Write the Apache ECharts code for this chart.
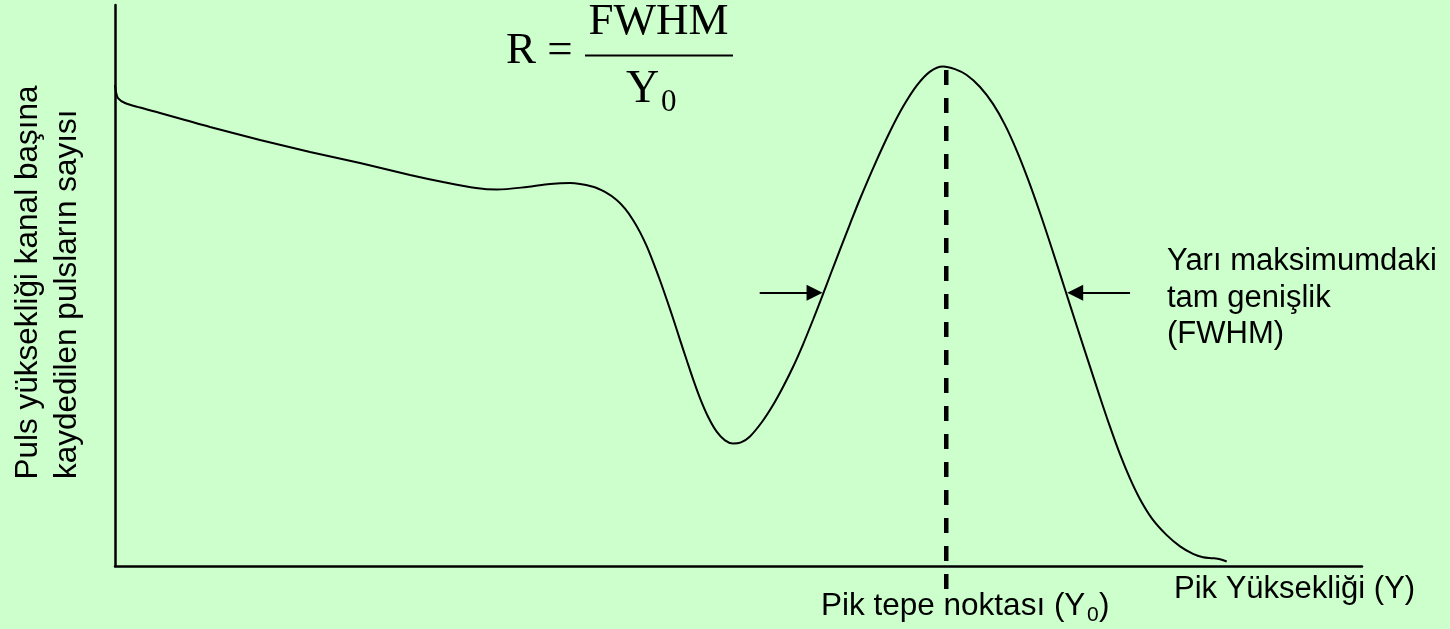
<!DOCTYPE html>
<html>
<head>
<meta charset="utf-8">
<script src="https://cdn.jsdelivr.net/npm/echarts@6/dist/echarts.min.js"></script>
<style>
  html, body { margin: 0; padding: 0; background: #ccffcc; }
  #spektrum { width: 1450px; height: 629px; }
</style>
</head>
<body>
<div id="spektrum"></div>
<script>
// puls yüksekliği spektrumu (keyfi birimler)
var pulsX = [
  0, 0.08, 0.24, 0.8, 2.0, 3.61, 5.61, 7.62, 11.63, 15.64, 19.65, 23.66, 26.3, 28.95, 30.63,
  33.04, 34.88, 36.49, 38.33, 39.29, 40.23, 40.9, 41.54, 42.1, 42.64, 43.14, 43.71, 44.27, 44.75, 45.31,
  45.85, 46.35, 46.91, 47.55, 48.25, 48.92, 49.56, 50.2, 50.92, 51.88, 52.77, 53.57, 54.37, 55.17, 55.97,
  56.7, 57.42, 58.14, 58.94, 59.74, 60.95, 62.15, 63.19, 64.29, 65.36, 66.4, 67.36, 68.3, 69.37, 70.41,
  71.37, 72.31, 73.22, 74.18, 75.14, 76.18, 77.14, 78.03, 78.99, 79.79, 80.59, 81.4, 82.2, 83.16, 84.34,
  85.41, 86.45, 87.25, 88.05, 88.61, 89.15
];
var pulsSayisi = [
  85.74, 84.49, 83.42, 82.53, 81.73, 80.75, 79.5, 78.25, 75.94, 73.8, 71.84, 69.7, 68.45, 67.38, 67.11,
  67.56, 68.09, 68.27, 67.61, 66.67, 65.24, 63.69, 61.69, 59.52, 57.01, 54.26, 50.89, 47.33, 44.17, 40.3,
  36.67, 33.35, 29.93, 26.65, 23.94, 22.39, 21.82, 22.03, 23.1, 25.67, 28.7, 31.91, 35.47, 39.48, 43.85,
  48.02, 52.23, 56.4, 60.96, 65.42, 71.69, 77.45, 81.85, 85.63, 88.13, 89.05, 88.57, 87.52, 85.38, 82.37,
  78.63, 74.05, 68.91, 62.92, 56.51, 49.32, 42.69, 36.61, 30.09, 24.83, 19.93, 15.56, 11.9, 8.45, 5.5,
  3.5, 2.16, 1.57, 1.39, 1.21, 0.8
];

// pik tepe noktası (Y0) ve yarı maksimum okları
var pikTepe = 66.66;
var pikCizgiY = [88.4, -4.1];
var yariMaksY = 48.7;
var solOk = [51.7, 56.1];
var sagOk = [81.4, 77.0];

var sans = "'Liberation Sans', Arial, sans-serif";
var serif = "'Liberation Serif', 'Times New Roman', serif";

var myChart = echarts.init(document.getElementById("spektrum"));

var egri = pulsX.map(function (x, i) {
  return [x, pulsSayisi[i]];
});

var option = {
  backgroundColor: "#ccffcc",
  animation: false,
  grid: { left: 115, right: 88, top: 5, bottom: 63 },
  xAxis: {
    type: "value",
    min: 0,
    max: 100,
    axisLine: { show: true, onZero: false, lineStyle: { color: "#000", width: 2.5 } },
    axisTick: { show: false },
    axisLabel: { show: false },
    splitLine: { show: false },
  },
  yAxis: {
    type: "value",
    min: 0,
    max: 100,
    axisLine: { show: true, onZero: false, lineStyle: { color: "#000", width: 2.5 } },
    axisTick: { show: false },
    axisLabel: { show: false },
    splitLine: { show: false },
  },
  series: [
    {
      type: "line",
      data: egri,
      smooth: 0.3,
      symbol: "none",
      lineStyle: { color: "#000", width: 2 },
      silent: true,
      markLine: {
        silent: true,
        symbol: ["none", "triangle"],
        symbolSize: 16,
        label: { show: false },
        lineStyle: { color: "#000", width: 2, type: "solid" },
        data: [
          [{ coord: [solOk[0], yariMaksY] }, { coord: [solOk[1], yariMaksY] }],
          [{ coord: [sagOk[0], yariMaksY] }, { coord: [sagOk[1], yariMaksY] }],
        ],
      },
    },
    {
      // kesikli dikey çizgi, x ekseninin altına taşıyor
      type: "line",
      data: [[pikTepe, pikCizgiY[0]], [pikTepe, pikCizgiY[1]]],
      symbol: "none",
      clip: false,
      silent: true,
      lineStyle: { color: "#000", width: 4.5, type: [15, 13], cap: "butt" },
    },
  ],
  graphic: [
    // R = FWHM / Y0
    {
      type: "text", x: 506, y: 51.5,
      style: { text: "R =", font: "45px " + serif, fill: "#000", align: "left", verticalAlign: "middle" },
    },
    {
      type: "text", x: 658.5, y: 22.5,
      style: { text: "FWHM", font: "45px " + serif, fill: "#000", align: "center", verticalAlign: "middle" },
    },
    {
      type: "line",
      shape: { x1: 585, y1: 55.5, x2: 733, y2: 55.5 },
      style: { stroke: "#000", lineWidth: 2 },
    },
    {
      type: "text", x: 626, y: 90,
      style: { text: "Y", font: "46px " + serif, fill: "#000", align: "left", verticalAlign: "middle" },
    },
    {
      type: "text", x: 661, y: 103,
      style: { text: "0", font: "31px " + serif, fill: "#000", align: "left", verticalAlign: "middle" },
    },
    // sağdaki açıklama
    {
      type: "text", x: 1167, y: 243,
      style: {
        text: "Yarı maksimumdaki\ntam genişlik\n(FWHM)",
        font: "31px " + sans, lineHeight: 36.7, fill: "#000", align: "left", verticalAlign: "top",
      },
    },
    // eksen adları
    {
      type: "text", x: 821, y: 606,
      style: { text: "Pik tepe noktası (Y", font: "31.5px " + sans, fill: "#000", align: "left", verticalAlign: "middle" },
    },
    {
      type: "text", x: 1087, y: 615.5,
      style: { text: "0", font: "21px " + sans, fill: "#000", align: "left", verticalAlign: "middle" },
    },
    {
      type: "text", x: 1099, y: 606,
      style: { text: ")", font: "31.5px " + sans, fill: "#000", align: "left", verticalAlign: "middle" },
    },
    {
      type: "text", x: 1174, y: 589.5,
      style: { text: "Pik Yüksekliği (Y)", font: "31px " + sans, fill: "#000", align: "left", verticalAlign: "middle" },
    },
    {
      type: "text", x: 28.5, y: 479.5, rotation: Math.PI / 2,
      style: { text: "Puls yüksekliği kanal başına", font: "31.5px " + sans, fill: "#000", align: "left", verticalAlign: "middle" },
    },
    {
      type: "text", x: 67.5, y: 479, rotation: Math.PI / 2,
      style: { text: "kaydedilen pulsların sayısı", font: "31.5px " + sans, fill: "#000", align: "left", verticalAlign: "middle" },
    },
  ],
};

myChart.setOption(option);
window.addEventListener("resize", function () {
  myChart.resize();
});
</script>
</body>
</html>
